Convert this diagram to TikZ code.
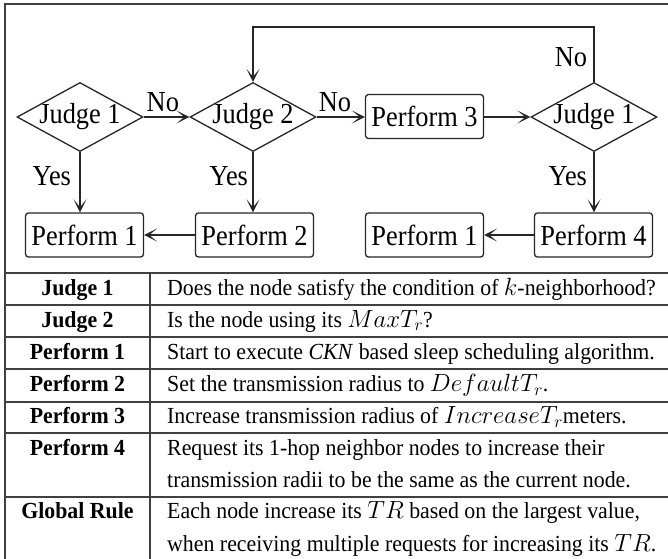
\documentclass[tikz,border=0pt]{standalone}
\usepackage{fontspec}
\setmainfont{Liberation Serif}
\newfontfamily\diafont[FakeStretch=0.91]{Liberation Serif}
\newfontfamily\tabfont[FakeStretch=0.95]{Liberation Serif}
\usetikzlibrary{shapes.geometric,arrows.meta}
\begin{document}
\begin{tikzpicture}[x=1pt,y=-1pt,
  dia/.style={draw=black!85,line width=1.3pt,diamond,aspect=1.826,minimum width=126pt,minimum height=69pt,inner sep=-1.5pt,font=\diafont\fontsize{29}{32}\selectfont},
  pbox/.style={draw=black!85,line width=1.3pt,rounded corners=3pt,minimum width=118pt,minimum height=44pt,inner sep=0pt,font=\diafont\fontsize{29}{32}\selectfont},
  arr/.style={draw=black!85,line width=2pt,-{Stealth[length=13pt,width=13pt,inset=8pt]}},
  lbl/.style={font=\diafont\fontsize{29}{32}\selectfont,inner sep=4pt},
  rule/.style={draw=black!75,line width=1.2pt},
  hd/.style={font=\tabfont\fontsize{23}{33}\selectfont\bfseries,anchor=base,inner sep=0pt},
  tx/.style={font=\tabfont\fontsize{23}{33}\selectfont,anchor=base west,inner sep=0pt}
]
\useasboundingbox (0,0) rectangle (668,558);
\fill[white] (0,0) rectangle (668,558);
% frame and table rules
\draw[rule] (5,600) -- (5,4) -- (700,4);
\draw[rule] (5,273) -- (700,273);
\foreach \yy in {305,337,369,402,433,497} \draw[rule] (5,\yy) -- (700,\yy);
\draw[rule] (150,273) -- (150,600);

% flowchart nodes
\node[dia] (J1) at (80,117) {Judge 1};
\node[dia] (J2) at (253,117) {Judge 2};
\node[pbox] (P3) at (424.5,116.5) {Perform 3};
\node[dia] (J1b) at (594,117) {Judge 1};
\node[pbox] (P1) at (84.5,235) {Perform 1};
\node[pbox] (P2) at (254.5,235) {Perform 2};
\node[pbox] (P1b) at (424.5,235) {Perform 1};
\node[pbox] (P4) at (593.5,235) {Perform 4};
\coordinate (top) at (594,27);

% connectors
\draw[arr] (J1.east) -- node[lbl,above,pos=0.42] {No} (J2.west);
\draw[arr] (J2.east) -- node[lbl,above,pos=0.38] {No} (J2.east -| P3.west);
\draw[arr] (P3.east |- J1b.west) -- (J1b.west);
\draw[arr] (J1b.north) -- node[lbl,left,pos=0.45,xshift=-2pt] {No} (top) -| (J2.north);
\draw[arr] (J1.south) -- node[lbl,left,pos=0.4,xshift=-4pt] {Yes} (J1.south |- P1.north);
\draw[arr] (J2.south) -- node[lbl,left,pos=0.4] {Yes} (J2.south |- P2.north);
\draw[arr] (J1b.south) -- node[lbl,left,pos=0.4,xshift=-2pt] {Yes} (J1b.south |- P4.north);
\draw[arr] (P2.west) -- (P1.east);
\draw[arr] (P4.west) -- (P1b.east);

% table text
\node[hd] (h1) at (77.5,295) {Judge 1};
\node[tx] (d1) at (167,295) {Does the node satisfy the condition of $k$-neighborhood?};
\node[hd] (h2) at (77.5,327) {Judge 2};
\node[tx] (d2) at (167,327) {Is the node using its $MaxT_r$?};
\node[hd] (h3) at (77.5,359) {Perform 1};
\node[tx] (d3) at (167,359) {Start to execute \textit{CKN} based sleep scheduling algorithm.};
\node[hd] (h4) at (77.5,391.5) {Perform 2};
\node[tx] (d4) at (167,391.5) {Set the transmission radius to $DefaultT_r$.};
\node[hd] (h5) at (77.5,423.5) {Perform 3};
\node[tx] (d5) at (167,423.5) {Increase transmission radius of $IncreaseT_r$meters.};
\node[hd] (h6) at (77.5,455) {Perform 4};
\node[tx] (d6a) at (167,455) {Request its 1-hop neighbor nodes to increase their};
\node[tx] (d6b) at (167,487) {transmission radii to be the same as the current node.};
\node[hd] (h7) at (77.5,518) {Global Rule};
\node[tx] (d7a) at (167,518) {Each node increase its $TR$ based on the largest value,};
\node[tx] (d7b) at (167,551) {when receiving multiple requests for increasing its $TR$.};
\end{tikzpicture}
\end{document}
